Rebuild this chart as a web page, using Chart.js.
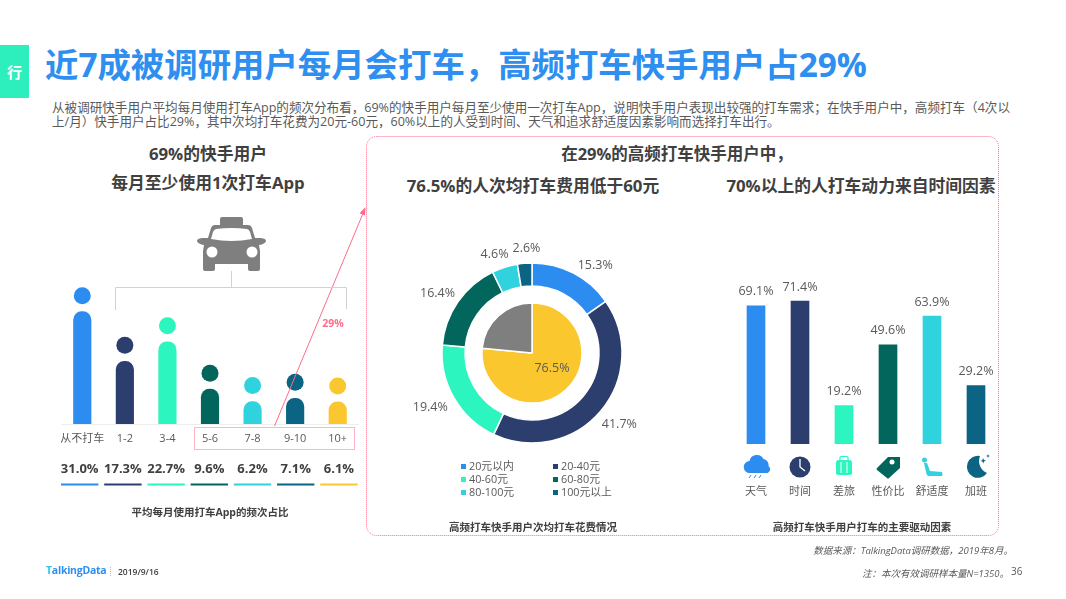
<!DOCTYPE html>
<html lang="zh">
<head>
<meta charset="utf-8">
<title>打车频次</title>
<script src="https://cdn.jsdelivr.net/npm/chart.js@4/dist/chart.umd.min.js"></script>
<style>
html, body { margin: 0; padding: 0; background: #fff; }
#page { position: relative; width: 1066px; height: 599px; overflow: hidden;
  font-family: "Open Sans", "Noto Sans CJK SC", sans-serif; color: #595959; }
#page div, #page svg { position: absolute; }
.t { white-space: nowrap; line-height: 1; }
.c { transform: translate(-50%, -50%); }
.h { font-weight: 700; font-size: 16.8px; color: #404040; }
.cap { font-weight: 700; font-size: 10.5px; color: #404040; }
.legend-box { width: 5px; height: 5px; }
.legend-text { font-size: 10.8px; }
</style>
</head>
<body>
<div id="page">
  <div style="left:0;top:45px;width:29px;height:53px;background:#2DEFBD"></div>
  <div class="t c" style="left:14.5px;top:72px;color:#fff;font-weight:700;font-size:15px">行</div>
  <div class="t" style="left:45px;top:48px;font-size:33.4px;font-weight:700;color:#2E8FF0">近7成被调研用户每月会打车，高频打车快手用户占29%</div>
  <div class="t" style="left:52px;top:102px;font-size:12.57px">从被调研快手用户平均每月使用打车App的频次分布看，69%的快手用户每月至少使用一次打车App，说明快手用户表现出较强的打车需求；在快手用户中，高频打车（4次以</div>
  <div class="t" style="left:52px;top:116px;font-size:12.57px">上/月）快手用户占比29%，其中次均打车花费为20元-60元，60%以上的人受到时间、天气和追求舒适度因素影响而选择打车出行。</div>

  <div class="t c h" style="left:208px;top:154px">69%的快手用户</div>
  <div class="t c h" style="left:208px;top:183px">每月至少使用1次打车App</div>
  <div class="t c h" style="left:677px;top:154px;font-size:16.5px">在29%的高频打车快手用户中，</div>
  <div class="t c h" style="left:533px;top:186px">76.5%的人次均打车费用低于60元</div>
  <div class="t c h" style="left:861px;top:186px">70%以上的人打车动力来自时间因素</div>

  <div style="left:61px;top:279px;width:298px;height:240px"><canvas id="freqChart"></canvas></div>
  <div style="left:382px;top:233px;width:300px;height:240px"><canvas id="costChart"></canvas></div>
  <div style="left:734px;top:270px;width:264px;height:234px"><canvas id="reasonChart"></canvas></div>
  <div id="costLegend" style="left:0;top:0"></div>

  <div class="t c cap" style="left:210px;top:512px">平均每月使用打车App的频次占比</div>
  <div class="t c cap" style="left:533px;top:527px">高频打车快手用户次均打车花费情况</div>
  <div class="t c cap" style="left:862px;top:527px">高频打车快手用户打车的主要驱动因素</div>
  <div class="t c" style="left:333px;top:323px;font-size:10.5px;font-weight:700;color:#FF6B8A">29%</div>

  <svg width="1066" height="599" style="left:0;top:0">
    <!-- frames and arrow -->
    <rect x="366.5" y="136.5" width="632" height="399" rx="10" fill="none" stroke="#FF6B8A" stroke-width="1" stroke-dasharray="1 1"/>
    <rect x="194.5" y="427.5" width="160" height="22" fill="none" stroke="#FF6B8A" stroke-width="1" stroke-dasharray="1 1"/>
    <line x1="274.5" y1="426" x2="364" y2="211" stroke="#FF6B8A" stroke-width="1"/>
    <path d="M365.500 207l-.5 8.500-5.500-2.300z" fill="#FF6B8A"/>
    <path d="M115.500 310V287.500H346.500V309M231.500 271V287.500" fill="none" stroke="#D2D2D2" stroke-width="1"/>
    <!-- taxi -->
    <path d="M220 225V219Q220 217 222 217H241Q243 217 243 219V225H248Q251 225 252 228L255 238H261Q266 238.500 266 241Q265 244 259 245L260 251V269Q260 271 258 271H250Q248 271 248 269V264H215V269Q215 271 213 271H205Q203 271 203 269V251L204 245Q198 244 197 241Q197 238.500 202 238H208L211 228Q212 225 215 225Z" fill="#7F7F7F"/>
    <path d="M216 229Q231.500 227 247 229Q249 229.500 250 232L252 239Q231.500 243 211 239L213 232Q214 229.500 216 229Z" fill="#fff"/>
    <circle cx="212" cy="252" r="5.500" fill="#fff"/>
    <circle cx="252" cy="252" r="5.500" fill="#fff"/>
    <!-- weather -->
    <path d="M750 473a6 6 0 0 1-.5-12a7.500 7.500 0 0 1 14-2a6 6 0 0 1 5 7a4 4 0 0 1-1 7z" fill="#2D8CF0"/>
    <path d="M751 475l-2 3M756 475l-2 3M761 475l-2 3" stroke="#2D8CF0" stroke-width="1"/>
    <!-- clock -->
    <circle cx="800" cy="467" r="10.500" fill="#2C3E6D"/>
    <path d="M800 459v8l5 4" fill="none" stroke="#fff" stroke-width="1.300"/>
    <!-- suitcase -->
    <rect x="836" y="460" width="16" height="15" rx="2.500" fill="#2DF5BF"/>
    <path d="M840 460v-2.500q0-1 1-1h6q1 0 1 1v2.500" fill="none" stroke="#2DF5BF" stroke-width="1.200"/>
    <path d="M841 462v11M847 462v11" stroke="#fff" stroke-width="1"/>
    <!-- tag -->
    <path d="M877 468l11-11h12v11l-11 10q-1 1-2 0l-10-8q-1-1 0-2z" fill="#02665C"/>
    <circle cx="892" cy="462" r="2.500" fill="#fff"/>
    <!-- seat -->
    <circle cx="924.500" cy="460" r="2.500" fill="#30D2DE"/>
    <path d="M924 463l3 0 3 8 12 1q1 3 0 4h-13q-2 0-2.500-2z" fill="#30D2DE"/>
    <!-- overtime -->
    <path d="M980 456a11 11 0 1 0 7 17a13 13 0 0 1-7-17z" fill="#0B6483"/>
    <path d="M983 458l1 2 2 .5-2 1-.5 2-1-2-2-.5 2-1zM988 454l.5 1.500 1.500.5-1.500.5-.5 1.500-.5-1.500-1.500-.5 1.500-.5z" fill="#0B6483"/>
    <!-- footer mark -->
    <line x1="110.500" y1="567" x2="110.500" y2="577" stroke="#bbb" stroke-dasharray="1 1"/>
  </svg>

  <div class="t" style="left:46px;top:565px;font-size:10.5px;font-weight:700;letter-spacing:-0.25px;color:#2E8FF0"><span style="color:#2DC5E0">T</span>alkingData</div>
  <div class="t" style="left:118px;top:568px;font-size:8.5px;font-weight:600;color:#404040">2019/9/16</div>
  <div class="t" style="right:53px;top:546px;font-size:9.5px;font-style:italic">数据来源：TalkingData调研数据，2019年8月。</div>
  <div class="t" style="right:57px;top:569px;font-size:9.5px;font-style:italic">注：本次有效调研样本量N=1350。</div>
  <div class="t" style="left:1011px;top:566px;font-size:10px">36</div>
</div>

<script>
// 打车频次
const freqLabels = ['从不打车', '1-2', '3-4', '5-6', '7-8', '9-10', '10+'];
const freqValues = [31.0, 17.3, 22.7, 9.6, 6.2, 7.1, 6.1];
const freqColors = ['#2D8CF0', '#2C3E6D', '#2DF5BF', '#02665C', '#30D2DE', '#0B6483', '#FBC72E'];

// 次均花费
const costLabels = ['20元以内', '20-40元', '40-60元', '60-80元', '80-100元', '100元以上'];
const costValues = [15.3, 41.7, 19.4, 16.4, 4.6, 2.6];
const costColors = ['#2D8CF0', '#2C3E6D', '#2DF5BF', '#02665C', '#30D2DE', '#0B6483'];
const shareValues = [76.5, 23.5];
const shareColors = ['#FBC72E', '#7F7F7F'];

// 驱动因素
const reasonLabels = ['天气', '时间', '差旅', '性价比', '舒适度', '加班'];
const reasonValues = [69.1, 71.4, 19.2, 49.6, 63.9, 29.2];
const reasonColors = ['#2D8CF0', '#2C3E6D', '#2DF5BF', '#02665C', '#30D2DE', '#0B6483'];

const FONT = '"Open Sans", "Noto Sans CJK SC", sans-serif';
const TEXT = '#595959';
const DOT_GAP = 4.4;   // dot sits this many units above its bar

Chart.defaults.font.family = FONT;
Chart.defaults.animation = false;
Chart.defaults.responsive = false;

function sizeCanvas(id, w, h) {
    const c = document.getElementById(id);
    c.width = w;
    c.height = h;
    c.style.width = w + 'px';
    c.style.height = h + 'px';
    return c;
}

// x axis takes a fixed height and no side padding, so the plot fills the canvas width
function fitAxis(height) {
    return function(scale) {
        scale.height = height;
        scale.paddingLeft = 0;
        scale.paddingRight = 0;
    };
}

// percent row and coloured rule under the left chart
const freqRow = {
    id: 'freqRow',
    afterDraw(chart) {
        const ctx = chart.ctx;
        ctx.save();
        ctx.textAlign = 'center';
        ctx.textBaseline = 'middle';
        ctx.font = '700 13px ' + FONT;
        freqValues.forEach((v, i) => {
            const x = chart.chartArea.left + i * 43.2;
            ctx.fillStyle = '#404040';
            ctx.fillText(v.toFixed(1) + '%', x + 18.7, 190);
            ctx.fillStyle = freqColors[i];
            ctx.fillRect(x, 204.5, 37.4, 2);
        });
        ctx.restore();
    }
};

const freqCanvas = sizeCanvas('freqChart', 298, 240);
new Chart(freqCanvas, {
    type: 'bar',
    data: {
        labels: freqLabels,
        datasets: [
            {
                data: freqValues,
                backgroundColor: freqColors,
                barThickness: 17.5,
                borderRadius: {topLeft: 8.5, topRight: 8.5}
            },
            {
                type: 'line',
                data: freqValues.map(v => v + DOT_GAP),
                showLine: false,
                pointRadius: 8.5,
                pointBorderWidth: 0,
                pointBackgroundColor: freqColors
            }
        ]
    },
    options: {
        layout: {padding: 0, autoPadding: false},
        plugins: {legend: {display: false}, tooltip: {enabled: false}},
        scales: {
            x: {
                grid: {display: false, drawTicks: false},
                border: {color: '#EEEEEE'},
                ticks: {autoSkip: false, maxRotation: 0, padding: 8, color: TEXT, font: {size: 11}},
                afterFit: fitAxis(95)
            },
            y: {display: false, min: 0, max: 40}
        }
    },
    plugins: [freqRow]
});

// labels around the ring and the one inside the pie
const labelNudge = [[13, 9], [2, -1], [-4, -2], [-2, 4], [-5, 3], [3, 0]];
const costText = {
    id: 'costText',
    afterDraw(chart) {
        const ctx = chart.ctx;
        ctx.save();
        ctx.textAlign = 'center';
        ctx.textBaseline = 'middle';
        ctx.font = '12.5px ' + FONT;
        ctx.fillStyle = TEXT;
        chart.getDatasetMeta(0).data.forEach((arc, i) => {
            const mid = (arc.startAngle + arc.endAngle) / 2;
            const r = arc.outerRadius + 14 + 10 * Math.abs(Math.cos(mid));
            const x = arc.x + r * Math.cos(mid) + labelNudge[i][0];
            const y = arc.y + r * Math.sin(mid) + labelNudge[i][1];
            ctx.fillText(costValues[i].toFixed(1) + '%', x, y);
        });
        const pie = chart.getDatasetMeta(2).data[0];
        ctx.fillText(shareValues[0].toFixed(1) + '%', pie.x + 20, pie.y + 15.5);
        ctx.restore();
    }
};

const costCanvas = sizeCanvas('costChart', 300, 240);
new Chart(costCanvas, {
    type: 'doughnut',
    data: {
        labels: costLabels,
        datasets: [
            {data: costValues, backgroundColor: costColors, borderColor: '#fff', borderWidth: 1.5, weight: 23},
            {data: [1], backgroundColor: 'rgba(0,0,0,0)', borderWidth: 0, weight: 17},
            {data: shareValues, backgroundColor: shareColors, borderColor: '#fff', borderWidth: 1.5, weight: 50}
        ]
    },
    options: {
        radius: 90,
        cutout: 0,
        plugins: {legend: {display: false}, tooltip: {enabled: false}}
    },
    plugins: [costText]
});

// two column legend, filled row by row
const legendHost = document.getElementById('costLegend');
costLabels.forEach((label, i) => {
    const col = i % 2;
    const row = Math.floor(i / 2);
    const box = document.createElement('div');
    box.className = 'legend-box';
    box.style.cssText = `left:${461 + col * 92}px;top:${463.5 + row * 13}px;background:${costColors[i]}`;
    const text = document.createElement('div');
    text.className = 't legend-text';
    text.style.cssText = `left:${469 + col * 92}px;top:${461 + row * 13}px`;
    text.textContent = label;
    legendHost.appendChild(box);
    legendHost.appendChild(text);
});

// value above each bar
const reasonText = {
    id: 'reasonText',
    afterDatasetsDraw(chart) {
        const ctx = chart.ctx;
        ctx.save();
        ctx.textAlign = 'center';
        ctx.textBaseline = 'middle';
        ctx.font = '12.5px ' + FONT;
        ctx.fillStyle = TEXT;
        chart.getDatasetMeta(0).data.forEach((bar, i) => {
            ctx.fillText(reasonValues[i].toFixed(1) + '%', bar.x, bar.y - 14);
        });
        ctx.restore();
    }
};

const reasonCanvas = sizeCanvas('reasonChart', 264, 234);
new Chart(reasonCanvas, {
    type: 'bar',
    data: {
        labels: reasonLabels,
        datasets: [{data: reasonValues, backgroundColor: reasonColors, barThickness: 18}]
    },
    options: {
        layout: {padding: 0},
        plugins: {legend: {display: false}, tooltip: {enabled: false}},
        scales: {
            x: {
                grid: {display: false, drawTicks: false},
                border: {display: false},
                ticks: {autoSkip: false, maxRotation: 0, padding: 41, color: TEXT, font: {size: 11}},
                afterFit: fitAxis(60)
            },
            y: {display: false, min: 0, max: 87}
        }
    },
    plugins: [reasonText]
});
</script>
</body>
</html>
